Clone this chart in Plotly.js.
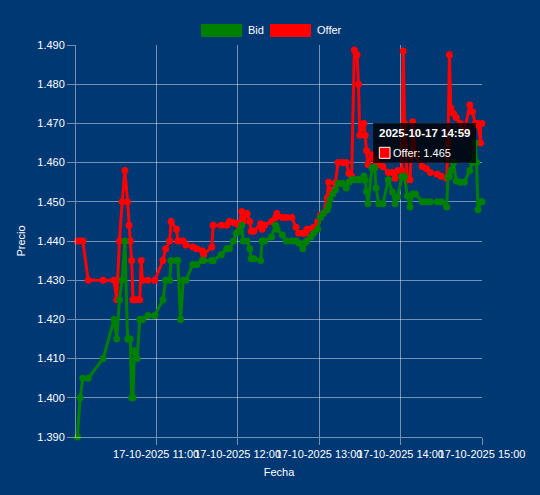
<!DOCTYPE html>
<html>
<head>
<meta charset="utf-8">
<script src="https://cdn.plot.ly/plotly-3.0.1.min.js"></script>
<style>
  html, body { margin: 0; padding: 0; background: #003874; }
  #chart { width: 540px; height: 495px; }
</style>
</head>
<body>
<div id="chart"></div>
<script>
// ---------- DATA ----------
const fecha = "2025-10-17";
const horas = [
  "10:02","10:04","10:06","10:10","10:21","10:29","10:31","10:33","10:35","10:37",
  "10:39","10:40","10:41","10:42","10:43","10:44","10:46","10:48","10:49","10:50",
  "10:54","10:59","11:05","11:07","11:10","11:11","11:15","11:16","11:18","11:20",
  "11:22","11:27","11:30","11:34","11:35","11:41","11:42","11:48","11:52","11:54",
  "11:57","11:59","12:01","12:03","12:04","12:07","12:09","12:10","12:12","12:17",
  "12:18","12:20","12:25","12:28","12:29","12:33","12:36","12:40","12:43","12:45",
  "12:48","12:50","12:51","12:54","12:56","12:59","13:01","13:03","13:06","13:07",
  "13:08","13:10","13:12","13:14","13:17","13:20","13:22","13:24","13:26","13:28",
  "13:29","13:30","13:33","13:34","13:35","13:36","13:39","13:41","13:42","13:44",
  "13:47","13:51","13:54","13:56","13:58","14:01","14:02","14:03","14:05","14:07",
  "14:09","14:11","14:16","14:19","14:22","14:27","14:30","14:34","14:35","14:36",
  "14:37","14:39","14:41","14:44","14:47","14:51","14:53","14:55","14:56","14:57",
  "14:59","15:00"
];
const bid = [
  1.390,1.400,1.405,1.405,1.410,1.420,1.415,1.425,1.430,1.440,
  1.415,1.415,1.415,1.400,1.400,1.412,1.410,1.420,1.420,1.420,
  1.421,1.421,1.425,1.430,1.430,1.435,1.435,1.435,1.420,1.430,
  1.430,1.434,1.434,1.435,1.435,1.435,1.435,1.4365,1.438,1.438,
  1.440,1.442,1.4425,1.444,1.440,1.440,1.438,1.4355,1.4355,1.435,
  1.440,1.440,1.441,1.444,1.443,1.4415,1.440,1.440,1.440,1.4395,
  1.438,1.4396,1.440,1.441,1.442,1.443,1.446,1.447,1.448,1.449,
  1.4506,1.452,1.453,1.4547,1.4547,1.4535,1.455,1.4556,1.4556,1.4556,
  1.4556,1.4556,1.4566,1.4555,1.4526,1.4495,1.4587,1.4587,1.4535,1.4495,
  1.4495,1.4556,1.4525,1.4495,1.4513,1.4564,1.4565,1.4564,1.4515,1.4487,
  1.452,1.452,1.450,1.450,1.450,1.450,1.450,1.4487,1.4564,1.4564,
  1.458,1.460,1.4553,1.455,1.455,1.458,1.460,1.465,1.460,1.448,
  1.450,1.450
];
const offer = [
  1.440,1.440,1.440,1.430,1.430,1.430,1.425,1.440,1.450,1.458,
  1.450,1.444,1.440,1.435,1.425,1.425,1.425,1.425,1.435,1.430,
  1.430,1.430,1.435,1.438,1.440,1.445,1.443,1.440,1.440,1.440,
  1.439,1.4385,1.438,1.4375,1.4365,1.4385,1.444,1.444,1.444,1.445,
  1.4447,1.4445,1.444,1.4475,1.445,1.447,1.445,1.4425,1.4425,1.4444,
  1.443,1.444,1.445,1.446,1.447,1.446,1.446,1.446,1.4435,1.442,
  1.442,1.442,1.443,1.443,1.4435,1.445,1.4466,1.447,1.451,1.455,
  1.4526,1.453,1.4548,1.460,1.460,1.460,1.4573,1.4565,1.4887,1.4875,
  1.480,1.467,1.470,1.467,1.463,1.4595,1.462,1.461,1.460,1.4595,
  1.459,1.4575,1.4575,1.456,1.458,1.458,1.4885,1.470,1.4556,1.4556,
  1.4704,1.462,1.459,1.4585,1.4575,1.457,1.4565,1.456,1.465,1.4875,
  1.474,1.4725,1.4715,1.470,1.468,1.4747,1.473,1.470,1.4696,1.470,
  1.465,1.470
];
const horasEje = ["11:00","12:00","13:00","14:00","15:00"];
const etiquetasEje = ["17-10-2025 11:00","17-10-2025 12:00","17-10-2025 13:00","17-10-2025 14:00","17-10-2025 15:00"];
const rangoHoras = ["10:01","15:00"];
const rangoPrecio = [1.390, 1.490];
const nombres = ["Bid", "Offer"];
const tooltipHora = "14:59";
const tooltipSerie = "Offer";

// ---------- BUILD ----------
const BG = "#003874";
const GRID = "rgba(255,255,255,0.45)";
const FONT = "'Liberation Sans', Arial, Helvetica, sans-serif";
const GREEN = "#008000";
const RED = "#ff0000";

const xs = horas.map(h => `${fecha} ${h}`);

// plot area in pixels
const L = 76, R = 482, T = 45, B = 437;
const px = x => (x - L) / (R - L);
const py = y => (B - y) / (B - T);

const mkTrace = (name, ys, color) => ({
  type: "scatter", mode: "lines+markers", name: name,
  x: xs, y: ys,
  line: { color: color, width: 3 },
  marker: { color: color, size: 7 },
  cliponaxis: false, showlegend: false, hoverinfo: "skip"
});

const data = [mkTrace(nombres[1], offer, RED), mkTrace(nombres[0], bid, GREEN)];

const ti = horas.indexOf(tooltipHora);
const tx = xs[ti];
const ty = offer[ti];

const shapes = [
  // legend boxes
  { type: "rect", xref: "paper", yref: "paper", x0: px(201.5), x1: px(241.5), y0: py(36.5), y1: py(24.5),
    fillcolor: GREEN, line: { color: GREEN, width: 1 } },
  { type: "rect", xref: "paper", yref: "paper", x0: px(270.5), x1: px(310.5), y0: py(36.5), y1: py(24.5),
    fillcolor: RED, line: { color: RED, width: 1 } },
  // tooltip box
  { type: "rect", layer: "above", xref: "x", yref: "y",
    xsizemode: "pixel", xanchor: tx, x0: -107.6, x1: -4.6,
    ysizemode: "pixel", yanchor: ty, y0: -20, y1: 20,
    fillcolor: "rgba(0,0,0,0.8)", line: { width: 0 } },
  // tooltip colour square
  { type: "rect", layer: "above", xref: "x", yref: "y",
    xsizemode: "pixel", xanchor: tx, x0: -101.3, x1: -90.6,
    ysizemode: "pixel", yanchor: ty, y0: -15.3, y1: -4.3,
    fillcolor: RED, line: { color: "#ffffff", width: 1 } }
];

const annotations = [
  { xref: "paper", yref: "paper", x: px(246.5), y: py(30.5), xanchor: "left", yanchor: "middle",
    text: nombres[0], showarrow: false, borderpad: 0, font: { family: FONT, size: 11, color: "#ffffff" } },
  { xref: "paper", yref: "paper", x: px(316), y: py(30.5), xanchor: "left", yanchor: "middle",
    text: nombres[1], showarrow: false, borderpad: 0, font: { family: FONT, size: 11, color: "#ffffff" } },
  { xref: "x", yref: "y", x: tx, y: ty, xshift: -102.6, yshift: 10.3, xanchor: "left", yanchor: "middle",
    text: `<b>${fecha} ${tooltipHora}</b>`, showarrow: false, borderpad: 0,
    font: { family: FONT, size: 11.5, color: "#ffffff" } },
  { xref: "x", yref: "y", x: tx, y: ty, xshift: -88.9, yshift: -9.7, xanchor: "left", yanchor: "middle",
    text: `${tooltipSerie}: ${ty}`, showarrow: false, borderpad: 0,
    font: { family: FONT, size: 11, color: "#ffffff" } }
];

const layout = {
  width: 540, height: 495,
  paper_bgcolor: BG, plot_bgcolor: BG,
  margin: { l: L, r: 540 - R, t: T, b: 495 - B, pad: 0 },
  font: { family: FONT, size: 11, color: "#ffffff" },
  showlegend: false,
  hovermode: false,
  xaxis: {
    type: "date",
    range: rangoHoras.map(h => `${fecha} ${h}`),
    tickmode: "array",
    tickvals: horasEje.map(h => `${fecha} ${h}`),
    ticktext: etiquetasEje,
    tickangle: 0,
    showgrid: true, gridcolor: GRID, gridwidth: 1,
    ticks: "outside", ticklen: 7, tickcolor: GRID, tickwidth: 1,
    showline: true, linecolor: GRID, linewidth: 1,
    zeroline: false,
    tickfont: { family: FONT, size: 11, color: "#ffffff" },
    title: { text: "Fecha", standoff: 9, font: { family: FONT, size: 11, color: "#ffffff" } },
    automargin: false, fixedrange: true
  },
  yaxis: {
    range: rangoPrecio,
    tick0: 1.39, dtick: 0.01,
    tickformat: ".3f",
    showgrid: true, gridcolor: GRID, gridwidth: 1,
    ticks: "outside", ticklen: 8, tickcolor: GRID, tickwidth: 1,
    showline: true, linecolor: GRID, linewidth: 1,
    zeroline: false,
    tickfont: { family: FONT, size: 11, color: "#ffffff" },
    title: { text: "Precio", standoff: 9, font: { family: FONT, size: 11, color: "#ffffff" } },
    automargin: false, fixedrange: true
  },
  shapes: shapes,
  annotations: annotations
};

Plotly.newPlot("chart", data, layout, { displayModeBar: false, staticPlot: true });
</script>
</body>
</html>
